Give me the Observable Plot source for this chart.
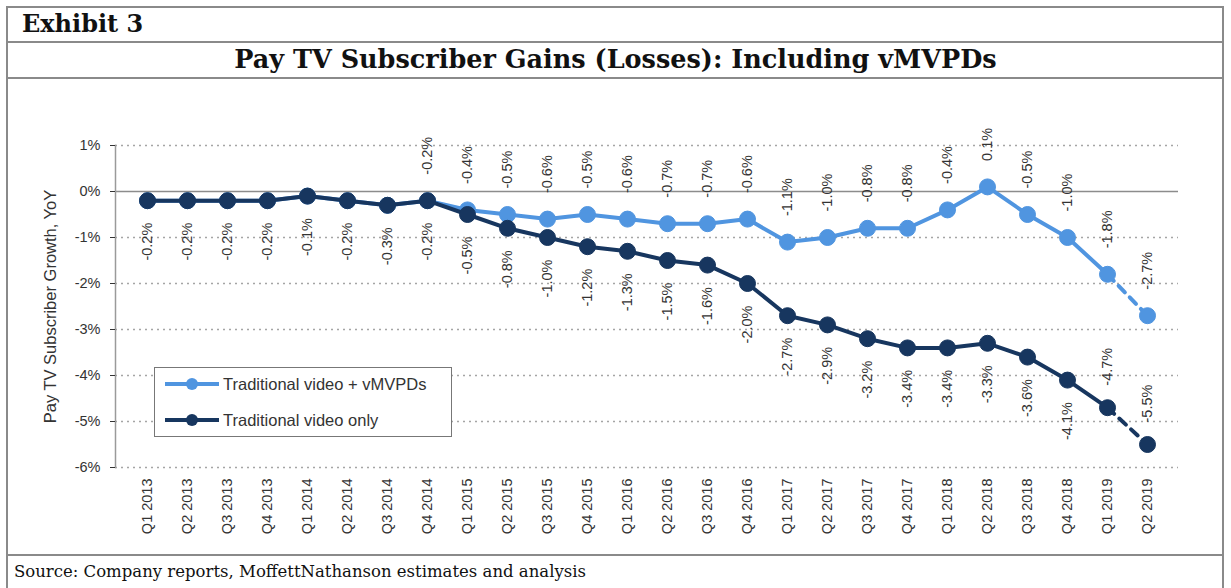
<!DOCTYPE html>
<html><head><meta charset="utf-8">
<script src="https://cdn.jsdelivr.net/npm/d3@7"></script>
<script src="https://cdn.jsdelivr.net/npm/@observablehq/plot@0.6"></script>
<style>
body{margin:0;background:#fff;}
#page{position:relative;width:1231px;height:588px;overflow:hidden;font-family:"Liberation Sans",Arial,sans-serif;background:#fff}
.frame{position:absolute;left:6px;top:6px;width:1218px;height:620px;border:2px solid #8a8a8a;box-sizing:border-box}
.hline{position:absolute;left:6px;width:1218px;height:2px;background:#8a8a8a}
#exhibit{position:absolute;left:22px;top:9px;font-family:"DejaVu Serif",serif;font-weight:bold;font-size:24px;color:#111}
#title{position:absolute;left:0;width:1231px;top:44px;text-align:center;font-family:"DejaVu Serif",serif;font-weight:bold;font-size:25.5px;color:#111}
#source{position:absolute;left:14px;top:562px;font-family:"DejaVu Serif",serif;font-size:16.5px;color:#111}
#chart{position:absolute;left:0;top:79px}
#legend{position:absolute;left:154px;top:367px;width:298px;height:70px;border:1.5px solid #777;box-sizing:border-box;background:#fff;font-size:16.5px;color:#333}
.lrow{position:absolute;left:10px;height:20px;display:flex;align-items:center}
.lsym{position:relative;width:54px;height:20px;margin-right:4px}
.lsym .ln{position:absolute;left:0;top:8px;width:54px;height:4px}
.lsym .dt{position:absolute;left:21px;top:4px;width:12px;height:12px;border-radius:50%}
</style>
</head><body>
<div id="page">
  <div class="frame"></div>
  <div class="hline" style="top:41px"></div>
  <div class="hline" style="top:77px"></div>
  <div class="hline" style="top:554px"></div>
  <div id="exhibit">Exhibit 3</div>
  <div id="title">Pay TV Subscriber Gains (Losses): Including vMVPDs</div>
  <div id="chart"></div>
  <div id="legend"></div>
  <div id="source">Source: Company reports, MoffettNathanson estimates and analysis</div>
</div>
<script>
const quarters = ["Q1 2013","Q2 2013","Q3 2013","Q4 2013","Q1 2014","Q2 2014","Q3 2014","Q4 2014",
  "Q1 2015","Q2 2015","Q3 2015","Q4 2015","Q1 2016","Q2 2016","Q3 2016","Q4 2016",
  "Q1 2017","Q2 2017","Q3 2017","Q4 2017","Q1 2018","Q2 2018","Q3 2018","Q4 2018","Q1 2019","Q2 2019"];
const seriesNames = ["Traditional video + vMVPDs", "Traditional video only"];
const withVmvpds = [-0.2,-0.2,-0.2,-0.2,-0.1,-0.2,-0.3,-0.2,
  -0.4,-0.5,-0.6,-0.5,-0.6,-0.7,-0.7,-0.6,
  -1.1,-1.0,-0.8,-0.8,-0.4,0.1,-0.5,-1.0,-1.8,-2.7];
const traditionalOnly = [-0.2,-0.2,-0.2,-0.2,-0.1,-0.2,-0.3,-0.2,
  -0.5,-0.8,-1.0,-1.2,-1.3,-1.5,-1.6,-2.0,
  -2.7,-2.9,-3.2,-3.4,-3.4,-3.3,-3.6,-4.1,-4.7,-5.5];
const yTicks = [1,0,-1,-2,-3,-4,-5,-6];
const yLabel = "Pay TV Subscriber Growth, YoY";
const firstLabeledVmvpd = "Q4 2014";   // labels of the light series start here
const estimateFrom = "Q1 2019";        // dashed segment starts here
const darkLabelsAbove = ["Q1 2019","Q2 2019"];

const colors = ["#5095e0", "#17365f"];
const fmt = v => v.toFixed(1) + "%";

const lightRows = quarters.map((q, i) => ({q, i, v: withVmvpds[i], s: seriesNames[0]}));
const darkRows = quarters.map((q, i) => ({q, i, v: traditionalOnly[i], s: seriesNames[1]}));
const estIdx = quarters.indexOf(estimateFrom);
const lblIdx = quarters.indexOf(firstLabeledVmvpd);

const lineMarks = (rows, color) => [
  Plot.line(rows.filter(d => d.i <= estIdx), {x: "q", y: "v", stroke: color, strokeWidth: 4}),
  Plot.line(rows.filter(d => d.i >= estIdx), {x: "q", y: "v", stroke: color, strokeWidth: 4, strokeDasharray: "9,7"}),
  Plot.dot(rows, {x: "q", y: "v", r: 8, fill: color, stroke: color, strokeWidth: 1})
];

const textStyle = {fontSize: 14.5, fill: "#333", rotate: -90, fontFamily: "Liberation Sans, Arial, sans-serif"};

const chart = Plot.plot({
  width: 1231,
  height: 476,
  marginLeft: 115,
  marginRight: 53,
  marginTop: 66,
  marginBottom: 88,
  style: {fontFamily: "Liberation Sans, Arial, sans-serif", background: "transparent"},
  x: {type: "band", domain: quarters, padding: 0},
  y: {domain: [-6, 1]},
  marks: [
    Plot.gridY(yTicks.filter(d => d !== 0), {stroke: "#a5a5a5", strokeOpacity: 1, strokeWidth: 1.5, strokeDasharray: "2,4"}),
    Plot.ruleY([0], {stroke: "#8c8c8c", strokeWidth: 1.5}),
    Plot.frame({anchor: "left", stroke: "#9a9a9a", strokeWidth: 1.5}),
    Plot.axisY({ticks: yTicks, tickFormat: d => d + "%", tickSize: 5, tickPadding: 10, fontSize: 14.5, color: "#333", label: null}),
    Plot.text([yLabel], {frameAnchor: "left", textAnchor: "middle", rotate: -90, dx: -65, fontSize: 16.5, fill: "#333", text: d => d}),
    Plot.axisX({tickSize: 0, tickRotate: -90, tickPadding: 11, fontSize: 14.5, color: "#333", label: null}),
    ...lineMarks(lightRows, colors[0]),
    ...lineMarks(darkRows, colors[1]),
    Plot.text(lightRows.filter(d => d.i >= lblIdx), {x: "q", y: "v", text: d => fmt(d.v), textAnchor: "start", dy: -26, ...textStyle}),
    Plot.text(darkRows.filter(d => !darkLabelsAbove.includes(d.q)), {x: "q", y: "v", text: d => fmt(d.v), textAnchor: "end", dy: 22, ...textStyle}),
    Plot.text(darkRows.filter(d => darkLabelsAbove.includes(d.q)), {x: "q", y: "v", text: d => fmt(d.v), textAnchor: "start", dy: -22, ...textStyle})
  ]
});
document.getElementById("chart").appendChild(chart);

const legend = document.getElementById("legend");
seriesNames.forEach((name, k) => {
  const row = document.createElement("div");
  row.className = "lrow";
  row.style.top = (k === 0 ? 6 : 42) + "px";
  row.innerHTML = `<div class="lsym"><div class="ln" style="background:${colors[k]}"></div><div class="dt" style="background:${colors[k]}"></div></div><span>${name}</span>`;
  legend.appendChild(row);
});
</script>
</body></html>
